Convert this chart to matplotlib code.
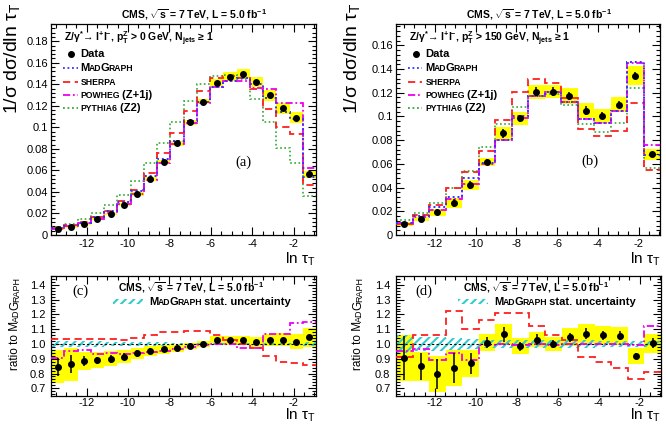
import numpy as np
import matplotlib
matplotlib.use("Agg")
import matplotlib.pyplot as plt
from matplotlib.ticker import MultipleLocator, FormatStrFormatter, FuncFormatter
from matplotlib.patches import Rectangle
from matplotlib.lines import Line2D

plt.rcParams['font.family'] = ['Liberation Sans', 'DejaVu Sans']
plt.rcParams['mathtext.fontset'] = 'custom'
plt.rcParams['mathtext.rm'] = 'Liberation Sans'
plt.rcParams['mathtext.it'] = 'Liberation Sans:italic'
plt.rcParams['mathtext.bf'] = 'Liberation Sans:bold'
plt.rcParams['hatch.linewidth'] = 1.5

# ln(tau_T) binning
edges_a = np.linspace(-13.72, -0.92, 21)   # pT(Z) > 0 GeV
edges_b = np.linspace(-13.90, -0.95, 17)   # pT(Z) > 150 GeV

# --- (a)/(c): pT(Z) > 0 GeV ---
data_a = [0.0055, 0.0075, 0.0101, 0.0145, 0.0197, 0.0280, 0.0380, 0.0520, 0.0680, 0.0850,
          0.1046, 0.1237, 0.1416, 0.1470, 0.1500, 0.1420, 0.1300, 0.1176, 0.1090, 0.0563]
mg_a = [0.0065, 0.0087, 0.0114, 0.0163, 0.0219, 0.0306, 0.0406, 0.0545, 0.0705, 0.0876,
        0.1062, 0.1237, 0.1375, 0.1434, 0.1463, 0.1399, 0.1268, 0.1142, 0.1074, 0.0539]
sherpa_a = [0.0067, 0.0090, 0.0118, 0.0168, 0.0226, 0.0315, 0.0422, 0.0578, 0.0761, 0.0946,
            0.1152, 0.1342, 0.1458, 0.1477, 0.1463, 0.1357, 0.1167, 0.1005, 0.0934, 0.0464]
powheg_a = [0.0059, 0.0083, 0.0109, 0.0152, 0.0205, 0.0286, 0.0382, 0.0515, 0.0673, 0.0845,
            0.1041, 0.1225, 0.1375, 0.1434, 0.1426, 0.1364, 0.1357, 0.1222, 0.1224, 0.0620]
pythia_a = [0.0071, 0.0102, 0.0148, 0.0200, 0.0277, 0.0375, 0.0500, 0.0668, 0.0853, 0.1050,
            0.1247, 0.1406, 0.1480, 0.1490, 0.1447, 0.1260, 0.1050, 0.0810, 0.0670, 0.0360]
# uncertainties, relative to MadGraph (ratio units)
stat_a = [0.06, 0.06, 0.035, 0.025, 0.025, 0.025, 0.025, 0.02, 0.015, 0.012,
          0.01, 0.01, 0.01, 0.01, 0.01, 0.01, 0.01, 0.01, 0.01, 0.015]
tot_a = [0.11, 0.11, 0.06, 0.055, 0.05, 0.045, 0.04, 0.035, 0.03, 0.025,
         0.02, 0.02, 0.025, 0.03, 0.03, 0.035, 0.04, 0.045, 0.05, 0.065]
mgstat_a = [0.02, 0.02, 0.02, 0.018, 0.016, 0.015, 0.014, 0.012, 0.011, 0.01,
            0.009, 0.008, 0.008, 0.008, 0.008, 0.008, 0.008, 0.008, 0.009, 0.012]

# --- (b)/(d): pT(Z) > 150 GeV ---
data_b = [0.0093, 0.0135, 0.0190, 0.0270, 0.0420, 0.0615, 0.0857, 0.0985,
          0.1210, 0.1210, 0.1175, 0.1050, 0.1005, 0.1100, 0.1345, 0.0680]
mg_b = [0.0103, 0.0159, 0.0238, 0.0323, 0.0483, 0.0609, 0.0805, 0.1000,
        0.1175, 0.1210, 0.1124, 0.0981, 0.0948, 0.1043, 0.1462, 0.0677]
sherpa_b = [0.0094, 0.0169, 0.0252, 0.0394, 0.0531, 0.0706, 0.0974, 0.1210,
            0.1316, 0.1283, 0.1158, 0.0893, 0.0834, 0.0876, 0.1111, 0.0548]
powheg_b = [0.0098, 0.0154, 0.0212, 0.0304, 0.0430, 0.0603, 0.0805, 0.0990,
            0.1175, 0.1204, 0.1124, 0.0981, 0.0948, 0.1043, 0.1447, 0.0758]
pythia_b = [0.0125, 0.0184, 0.0269, 0.0396, 0.0543, 0.0741, 0.0934, 0.1080,
            0.1174, 0.1190, 0.1098, 0.0940, 0.0869, 0.0948, 0.1237, 0.0566]
stat_b = [0.15, 0.09, 0.10, 0.10, 0.07, 0.04, 0.05, 0.03,
          0.035, 0.03, 0.03, 0.035, 0.03, 0.03, 0.02, 0.035]
tot_b = [0.155, 0.10, 0.12, 0.12, 0.09, 0.06, 0.07, 0.055,
         0.05, 0.045, 0.06, 0.065, 0.06, 0.06, 0.055, 0.065]
mgstat_b = [0.06, 0.05, 0.05, 0.04, 0.035, 0.03, 0.03, 0.025,
            0.025, 0.025, 0.025, 0.025, 0.02, 0.02, 0.02, 0.02]

C_MG, C_SH, C_PW, C_PY = '#3333ff', '#ff2020', '#ee00ee', '#33aa33'
LS_MG, LS_SH, LS_PW, LS_PY = (0, (1, 1.5)), (0, (4, 2.5)), (0, (4, 1.5, 1, 1.5)), (0, (1, 1.5))
YELLOW = '#ffff00'
HATCH = '#33cccc'


def chain(ax, x, y, parts, transform, weight='bold', rotation=0):
    # glue text pieces of different sizes (small caps)
    s, fs = parts[0]
    if rotation == 0:
        t = ax.text(x, y, s, fontsize=fs, fontweight=weight, transform=transform,
                    ha='left', va='baseline')
        for s, fs in parts[1:]:
            t = ax.annotate(s, xy=(1, 0), xycoords=t, xytext=(-0.6, 0), textcoords='offset points',
                            fontsize=fs, fontweight=weight, ha='left', va='bottom')
    else:
        t = ax.text(x, y, s, fontsize=fs, fontweight=weight, transform=transform,
                    rotation=90, ha='center', va='bottom')
        for s, fs in parts[1:]:
            t = ax.annotate(s, xy=(1, 1), xycoords=t, xytext=(0, -0.6), textcoords='offset points',
                            fontsize=fs, fontweight=weight, rotation=90, ha='right', va='bottom')


def style(ax, edges, ylim, ymaj, ymin, yfmt, labpad, xpad):
    ax.set_xlim(edges[0], edges[-1])
    ax.set_ylim(*ylim)
    ax.xaxis.set_major_locator(MultipleLocator(2))
    ax.xaxis.set_minor_locator(MultipleLocator(0.5))
    ax.yaxis.set_major_locator(MultipleLocator(ymaj))
    ax.yaxis.set_minor_locator(MultipleLocator(ymin))
    ax.xaxis.set_major_formatter(FormatStrFormatter('%g'))
    ax.yaxis.set_major_formatter(yfmt)
    ax.tick_params(which='both', direction='in', top=True, right=True, width=0.8, labelsize=8)
    ax.tick_params(which='major', length=5.5)
    ax.tick_params(which='minor', length=3)
    ax.tick_params(axis='y', pad=labpad)
    ax.tick_params(axis='x', pad=xpad)
    for sp in ax.spines.values():
        sp.set_linewidth(0.9)


def top_panel(ax, edges, data, mg, sherpa, powheg, pythia, stat, tot, ylim, sel):
    mg = np.asarray(mg)
    data = np.asarray(data)
    cen = 0.5 * (edges[1:] + edges[:-1])
    w = np.diff(edges)
    tot = np.asarray(tot) * mg
    ax.bar(edges[:-1], 2 * tot, bottom=data - tot, width=w, align='edge',
           color=YELLOW, lw=0, zorder=1)
    ax.stairs(pythia, edges, baseline=None, color=C_PY, ls=LS_PY, lw=1.2, zorder=2)
    ax.stairs(sherpa, edges, baseline=None, color=C_SH, ls=LS_SH, lw=1.3, zorder=3)
    ax.stairs(powheg, edges, baseline=None, color=C_PW, ls=LS_PW, lw=1.3, zorder=3)
    ax.stairs(mg, edges, baseline=None, color=C_MG, ls=LS_MG, lw=1.4, zorder=4)
    ax.errorbar(cen, data, yerr=np.asarray(stat) * mg, fmt='o', color='k', ms=4,
                elinewidth=1.1, capsize=0, zorder=6)
    fmt = FuncFormatter(lambda v, p: '0' if abs(v) < 1e-9 else '%g' % round(v, 3))
    style(ax, edges, ylim, 0.02, 0.004, fmt, 2, 3)

    # legend
    H = 211.0
    def yb(py):
        return (235 - py) / H
    ax.text(0.05, yb(39), r"Z/γ$^{\mathbf{*}}$→ l$^{\mathbf{+}}$l$^{\mathbf{-}}$, p$_{\mathbf{T}}^{\mathbf{Z}}$ > "
            + sel + r" GeV, N$_{\mathbf{jets}}$ ≥ 1",
            transform=ax.transAxes, fontsize=7.5, fontweight='bold', va='center', ha='left')
    ax.add_line(Line2D([0.077], [yb(54)], marker='o', ms=4, color='k', transform=ax.transAxes))
    keys = [(68, C_MG, LS_MG), (82, C_SH, LS_SH), (95, C_PW, LS_PW), (108, C_PY, LS_PY)]
    for py, c, ls in keys:
        ax.add_line(Line2D([0.045, 0.100], [yb(py), yb(py)], color=c, ls=ls, lw=1.3,
                           transform=ax.transAxes))
    entries = [(54, [("Data", 8)]),
               (68, [("M", 8), ("AD", 6.2), ("G", 8), ("RAPH", 6.2)]),
               (82, [("SHERPA", 6.2)]),
               (95, [("POWHEG", 6.2), (" (Z+1j)", 8)]),
               (108, [("PYTHIA6", 6.2), (" (Z2)", 8)])]
    for py, parts in entries:
        chain(ax, 0.112, yb(py + 3), parts, ax.transAxes)


def ratio_panel(ax, edges, data, mg, sherpa, powheg, stat, tot, mgstat):
    mg = np.asarray(mg)
    cen = 0.5 * (edges[1:] + edges[:-1])
    w = np.diff(edges)
    r = np.asarray(data) / mg
    tot = np.asarray(tot)
    mgstat = np.asarray(mgstat)
    ax.bar(edges[:-1], 2 * tot, bottom=r - tot, width=w, align='edge',
           color=YELLOW, lw=0, zorder=1)
    ax.bar(edges[:-1], 2 * mgstat, bottom=1 - mgstat, width=w, align='edge',
           fill=False, hatch='////', edgecolor=HATCH, lw=0, zorder=2)
    ax.axhline(1.0, color='k', ls=(0, (2, 2)), lw=0.8, zorder=3)
    ax.stairs(np.asarray(sherpa) / mg, edges, baseline=None, color=C_SH, ls=LS_SH, lw=1.3, zorder=4)
    ax.stairs(np.asarray(powheg) / mg, edges, baseline=None, color=C_PW, ls=LS_PW, lw=1.3, zorder=4)
    ax.errorbar(cen, r, yerr=stat, fmt='o', color='k', ms=4, elinewidth=1.1, capsize=0, zorder=6)
    style(ax, edges, (0.648, 1.46), 0.1, 0.02, FormatStrFormatter('%.1f'), 4, 1.2)

    ax.text(0.53, 0.905, r"CMS, $\mathbf{\sqrt{s}}$ = 7 TeV, L = 5.0 fb$^{\mathbf{-1}}$",
            transform=ax.transAxes, fontsize=7.5, fontweight='bold', ha='center', va='center')
    ax.add_patch(Rectangle((0.234, 0.765), 0.113, 0.045, transform=ax.transAxes,
                           fill=False, hatch='////', edgecolor=HATCH, lw=0))
    chain(ax, 0.372, 0.758, [("M", 8), ("AD", 6.2), ("G", 8), ("RAPH", 6.2),
                             (" stat. uncertainty", 8)], ax.transAxes)


fig = plt.figure(figsize=(6.66, 4.30), dpi=100)
ax_a = fig.add_axes([51 / 666, 1 - 235 / 430, 265 / 666, 211 / 430])
ax_b = fig.add_axes([396 / 666, 1 - 235 / 430, 264 / 666, 211 / 430])
ax_c = fig.add_axes([51 / 666, 1 - 396 / 430, 265 / 666, 120 / 430])
ax_d = fig.add_axes([396 / 666, 1 - 396 / 430, 265 / 666, 120 / 430])

top_panel(ax_a, edges_a, data_a, mg_a, sherpa_a, powheg_a, pythia_a, stat_a, tot_a, (0, 0.196), "0")
top_panel(ax_b, edges_b, data_b, mg_b, sherpa_b, powheg_b, pythia_b, stat_b, tot_b, (0, 0.178), "150")
ratio_panel(ax_c, edges_a, data_a, mg_a, sherpa_a, powheg_a, stat_a, tot_a, mgstat_a)
ratio_panel(ax_d, edges_b, data_b, mg_b, sherpa_b, powheg_b, stat_b, tot_b, mgstat_b)

title = r"CMS, $\mathbf{\sqrt{s}}$ = 7 TeV, L = 5.0 fb$^{\mathbf{-1}}$"
for ax, lab, pos in [(ax_a, "(a)", (0.725, 0.345)), (ax_b, "(b)", (0.735, 0.35)),
                     (ax_c, "(c)", (0.11, 0.87)), (ax_d, "(d)", (0.105, 0.87))]:
    ax.text(pos[0], pos[1], lab, transform=ax.transAxes, fontsize=10.5,
            family='Liberation Serif', ha='center', va='center')
for ax in (ax_a, ax_b):
    ax.text(0.54, 1.045, title, transform=ax.transAxes, fontsize=7.5, fontweight='bold',
            ha='center', va='center')

# axis titles
for x in (316 / 666, 661 / 666):
    fig.text(x, 1 - 259 / 430, r"ln τ$_{\mathrm{T}}$", fontsize=11, ha='right', va='center')
    fig.text(x, 1 - 415 / 430, r"ln τ$_{\mathrm{T}}$", fontsize=11, ha='right', va='center')
for x in (12 / 666, 352 / 666):
    fig.text(x, 1 - 3 / 430, r"1/σ dσ/dln τ$_{\mathrm{T}}$", fontsize=14, rotation=90,
             ha='center', va='top')
for x in (15 / 666, 358 / 666):
    chain(ax_a, x, 1 - 370 / 430, [("ratio to M", 8.5), ("AD", 6.5), ("G", 8.5), ("RAPH", 6.5)],
          fig.transFigure, weight='normal', rotation=90)

fig.savefig("out.png", dpi=100)
